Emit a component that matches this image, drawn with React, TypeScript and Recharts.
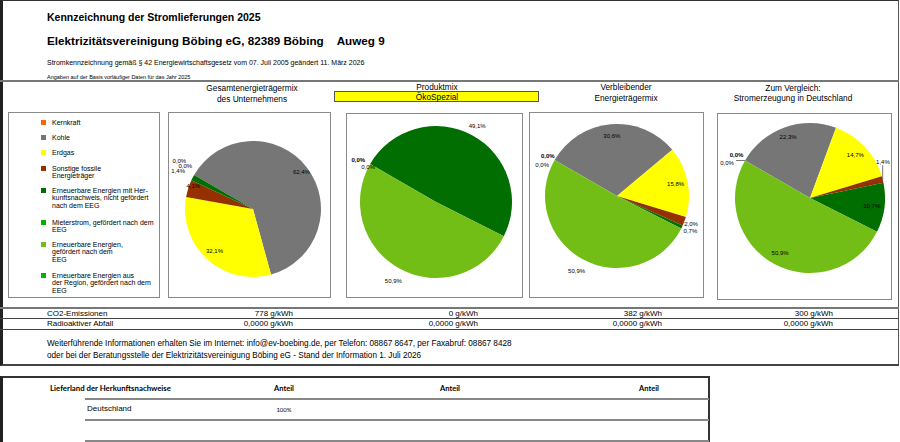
import React from 'react'
import { PieChart, Pie, Cell } from 'recharts'

const FONT = '"Liberation Sans", Arial, Helvetica, sans-serif'
const SMALL_FONT = 'Lato, "Liberation Sans", sans-serif'

// Energieträger (Reihenfolge wie in der Legende)
const categories = [
  'Kernkraft',
  'Kohle',
  'Erdgas',
  'Sonstige fossile Energieträger',
  'Erneuerbare Energien mit Herkunftsnachweis, nicht gefördert nach dem EEG',
  'Mieterstrom, gefördert nach dem EEG',
  'Erneuerbare Energien, gefördert nach dem EEG',
  'Erneuerbare Energien aus der Region, gefördert nach dem EEG',
]
const legendLines = [
  ['Kernkraft'],
  ['Kohle'],
  ['Erdgas'],
  ['Sonstige fossile', 'Energieträger'],
  ['Erneuerbare Energien mit Her-', 'kunftsnachweis, nicht gefördert', 'nach dem EEG'],
  ['Mieterstrom, gefördert nach dem', 'EEG'],
  ['Erneuerbare Energien,', 'gefördert nach dem', 'EEG'],
  ['Erneuerbare Energien aus', 'der Region, gefördert nach dem', 'EEG'],
]
const colors = ['#FF6600', '#767676', '#FFFF00', '#953000', '#006E00', '#00B400', '#72BE17', '#00B400']

// Anteile in %
const gesamtMix = [0, 62.4, 32.1, 4.1, 1.4, 0, 0, 0]
const produktMix = [0, 0, 0, 0, 49.1, 0, 50.9, 0]
const restMix = [0, 30.6, 15.8, 2.0, 0.7, 0, 50.9, 0]
const deutschlandMix = [0, 22.3, 14.7, 1.4, 10.7, 0, 50.9, 0]

const co2Values = [778, 0, 382, 300]
const wasteValues = [0, 0, 0, 0]

const lieferland = ['Deutschland']
const lieferAnteil = ['100%']

type LabelCfg = { f: number; dx?: number; dy?: number; bold?: boolean; line?: boolean }

const labelsGesamt: Record<number, LabelCfg> = {
  0: { f: 1.25, dy: -6 },
  1: { f: 0.9 },
  2: { f: 0.84 },
  3: { f: 0.92, dy: -4 },
  4: { f: 1.24, dy: 1 },
  7: { f: 1.15, dy: -4 },
}
const labelsProdukt: Record<number, LabelCfg> = {
  0: { f: 1.18, dy: 3, bold: true },
  4: { f: 1.14 },
  6: { f: 1.18 },
  7: { f: 1.03, dy: 4 },
}
const labelsRest: Record<number, LabelCfg> = {
  0: { f: 1.11, bold: true },
  1: { f: 0.83 },
  2: { f: 0.83 },
  3: { f: 1.1 },
  4: { f: 1.13 },
  6: { f: 1.18 },
  7: { f: 1.2, dy: 12 },
}
const labelsDeutschland: Record<number, LabelCfg> = {
  0: { f: 1.13, dy: -1, bold: true },
  1: { f: 0.86 },
  2: { f: 0.83 },
  3: { f: 1.1, dx: -7, dy: -16, line: true },
  4: { f: 0.83 },
  6: { f: 0.84 },
  7: { f: 1.2, dx: -5, dy: 10, line: true },
}

const RAD = Math.PI / 180
const fmt = (v: number) => v.toFixed(1).replace('.', ',') + '%'

function makeLabel(layout: Record<number, LabelCfg>) {
  return (props: any) => {
    const { cx, cy, midAngle, outerRadius, index, value } = props
    const cfg = layout[index]
    if (!cfg) return null
    const rr = outerRadius * cfg.f
    const x = cx + rr * Math.cos(-midAngle * RAD) + (cfg.dx || 0)
    const y = cy + rr * Math.sin(-midAngle * RAD) + (cfg.dy || 0)
    let line = null
    if (cfg.line) {
      const ex = cx + outerRadius * Math.cos(-midAngle * RAD)
      const ey = cy + outerRadius * Math.sin(-midAngle * RAD)
      const nx = Math.min(Math.max(ex, x - 9), x + 9)
      const ny = Math.min(Math.max(ey, y - 3.5), y + 3.5)
      line = <line x1={ex} y1={ey} x2={nx} y2={ny} stroke="#555" strokeWidth={0.8} />
    }
    return (
      <g key={'l' + index}>
        {line}
        <text x={x} y={y} textAnchor="middle" dominantBaseline="central" fontSize={6}
          fontFamily={FONT} fontWeight={cfg.bold ? 700 : 400} fill="#000">
          {fmt(value)}
        </text>
      </g>
    )
  }
}

const pies = [
  { left: 168, top: 112, width: 163, height: 186, cx: 84, cy: 96, r: 68, values: gesamtMix, labels: labelsGesamt },
  { left: 346, top: 113, width: 177, height: 185, cx: 89, cy: 88, r: 76, values: produktMix, labels: labelsProdukt },
  { left: 529, top: 112, width: 175, height: 186, cx: 87, cy: 83, r: 72, values: restMix, labels: labelsRest },
  { left: 717, top: 113, width: 175, height: 187, cx: 92, cy: 84, r: 75, values: deutschlandMix, labels: labelsDeutschland },
]

function Txt({ x, y, size = 8, bold = false, align = 'left', family = FONT, children }: any) {
  const h = Math.round(size * 1.25)
  const style: React.CSSProperties = {
    position: 'absolute', top: y - h / 2, height: h, lineHeight: h + 'px', fontSize: size,
    fontWeight: bold ? 700 : 400, fontFamily: family, whiteSpace: 'nowrap', color: '#000',
  }
  if (align === 'left') style.left = x
  else if (align === 'right') style.right = 900 - x
  else {
    style.left = x
    style.transform = 'translateX(-50%)'
  }
  return <div style={style}>{children}</div>
}

function HLine({ x1, x2, y, w = 1, color = '#555' }: any) {
  return <div style={{ position: 'absolute', left: x1, top: y, width: x2 - x1, height: w, background: color }} />
}

function MixPie({ p }: any) {
  const data = categories.map((name, i) => ({ name, value: p.values[i] }))
  return (
    <div style={{ position: 'absolute', left: p.left, top: p.top, width: p.width, height: p.height, border: '1px solid #8a8a8a', boxSizing: 'border-box', background: '#fff' }}>
      <PieChart width={p.width - 2} height={p.height - 2} margin={{ top: 0, right: 0, bottom: 0, left: 0 }}>
        <Pie data={data} dataKey="value" nameKey="name" cx={p.cx} cy={p.cy} outerRadius={p.r}
          startAngle={150} endAngle={-210} stroke="none" isAnimationActive={false}
          label={makeLabel(p.labels)} labelLine={false}>
          {data.map((d, i) => <Cell key={d.name} fill={colors[i]} />)}
        </Pie>
      </PieChart>
    </div>
  )
}

const legendY = [122, 137, 152, 168, 190, 222, 244, 275]
const valueRight = [293, 478, 662, 833]

export default function App() {
  return (
    <div style={{ position: 'absolute', left: 0, top: 0, width: 900, height: 442, overflow: 'hidden', background: '#fff', fontFamily: FONT }}>
      <style>{'.recharts-surface{overflow:visible}'}</style>
      {/* obere Tabelle */}
      <div style={{ position: 'absolute', left: 0, top: 0, width: 899, height: 366, boxSizing: 'border-box',
        borderLeft: '3px solid #222', borderTop: '1px solid #333', borderRight: '1px solid #555', borderBottom: '2px solid #444' }} />

      <Txt x={47} y={17} size={10.5} bold>Kennzeichnung der Stromlieferungen 2025</Txt>
      <Txt x={47} y={40} size={11.7} bold>Elektrizitätsvereinigung Böbing eG, 82389 Böbing&nbsp;&nbsp;&nbsp;&nbsp;Auweg 9</Txt>
      <Txt x={47} y={62} size={7}>Stromkennzeichnung gemäß § 42 Energiewirtschaftsgesetz vom 07. Juli 2005 geändert 11. März 2026</Txt>
      <Txt x={47} y={77} size={5.5}>Angaben auf der Basis vorläufiger Daten für das Jahr 2025</Txt>
      <HLine x1={0} x2={899} y={80} w={2} color="#777" />

      <Txt x={252} y={88} size={8.3} align="center">Gesamtenergieträgermix</Txt>
      <Txt x={252} y={99} size={8.3} align="center">des Unternehmens</Txt>
      <Txt x={437} y={87} size={8.3} align="center">Produktmix</Txt>
      <div style={{ position: 'absolute', left: 334, top: 91, width: 205, height: 11, boxSizing: 'border-box', background: '#FFFF00', border: '1px solid #555' }} />
      <Txt x={437} y={96.5} size={8.3} align="center">ÖkoSpezial</Txt>
      <Txt x={626} y={87} size={8.3} align="center">Verbleibender</Txt>
      <Txt x={626} y={97.5} size={8.3} align="center">Energieträgermix</Txt>
      <Txt x={793} y={87.5} size={8.3} align="center">Zum Vergleich:</Txt>
      <Txt x={793} y={98} size={8.3} align="center">Stromerzeugung in Deutschland</Txt>

      {/* Legende */}
      <div style={{ position: 'absolute', left: 8, top: 112, width: 152, height: 186, boxSizing: 'border-box', border: '1px solid #8a8a8a' }} />
      {legendLines.map((lines, i) => (
        <React.Fragment key={categories[i]}>
          <div style={{ position: 'absolute', left: 41, top: legendY[i] - 2.5, width: 5, height: 5, background: colors[i] }} />
          {lines.map((t, j) => (
            <Txt key={t} x={52} y={legendY[i] + j * 7.5} size={7}>{t}</Txt>
          ))}
        </React.Fragment>
      ))}

      {pies.map((p, i) => <MixPie key={i} p={p} />)}

      {/* Emissionen */}
      <HLine x1={0} x2={899} y={307} w={2} color="#777" />
      <HLine x1={0} x2={899} y={318} w={1} color="#444" />
      <HLine x1={0} x2={899} y={329} w={1} color="#444" />
      <Txt x={47} y={313.5} size={8}>CO2-Emissionen</Txt>
      <Txt x={47} y={324} size={8}>Radioaktiver Abfall</Txt>
      {co2Values.map((v, i) => (
        <Txt key={'c' + i} x={valueRight[i]} y={313.5} size={8} align="right">{v} g/kWh</Txt>
      ))}
      {wasteValues.map((v, i) => (
        <Txt key={'w' + i} x={valueRight[i]} y={324} size={8} align="right">{v.toFixed(4).replace('.', ',')} g/kWh</Txt>
      ))}

      <Txt x={47} y={344} size={8.2}>Weiterführende Informationen erhalten Sie im Internet: info@ev-boebing.de, per Telefon: 08867 8647, per Faxabruf: 08867 8428</Txt>
      <Txt x={47} y={356} size={8.2}>oder bei der Beratungsstelle der Elektrizitätsvereinigung Böbing eG - Stand der Information 1. Juli 2026</Txt>

      {/* Herkunftsnachweise */}
      <div style={{ position: 'absolute', left: 0, top: 376, width: 710, height: 80, boxSizing: 'border-box',
        borderLeft: '3px solid #222', borderTop: '2px solid #333', borderRight: '2px solid #333' }} />
      <Txt x={50} y={388} size={7.8} bold family={SMALL_FONT}>Lieferland der Herkunftsnachweise</Txt>
      <Txt x={284} y={388} size={7.5} bold family={SMALL_FONT} align="center">Anteil</Txt>
      <Txt x={450} y={388} size={7.5} bold family={SMALL_FONT} align="center">Anteil</Txt>
      <Txt x={649} y={388} size={7.5} bold family={SMALL_FONT} align="center">Anteil</Txt>
      <HLine x1={85} x2={709} y={398} w={2} color="#888" />
      {lieferland.map((l, i) => (
        <React.Fragment key={l}>
          <Txt x={87} y={409} size={8}>{l}</Txt>
          <Txt x={284} y={409.5} size={6} family={SMALL_FONT} align="center">{lieferAnteil[i]}</Txt>
        </React.Fragment>
      ))}
      <HLine x1={85} x2={709} y={419} w={2} color="#888" />
      <HLine x1={85} x2={709} y={440} w={2} color="#888" />
    </div>
  )
}
